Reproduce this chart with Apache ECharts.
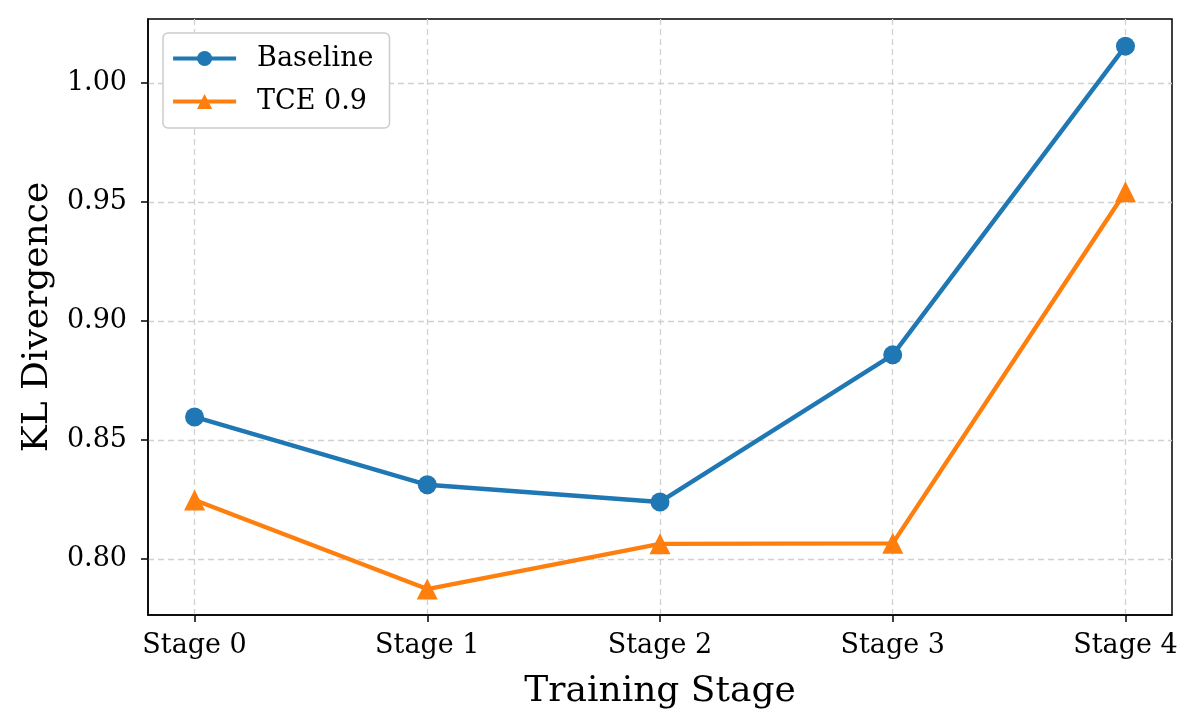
<!DOCTYPE html>
<html>
<head>
<meta charset="utf-8">
<script src="https://cdn.jsdelivr.net/npm/echarts@6/dist/echarts.min.js"></script>
<style>html,body{margin:0;padding:0;background:#fff}#c{width:1200px;height:728px}</style>
</head>
<body>
<div id="c"></div>
<script>
const stages = [0, 1, 2, 3, 4];
const stageLabels = ['Stage 0', 'Stage 1', 'Stage 2', 'Stage 3', 'Stage 4'];
const baseline = [0.8597, 0.8312, 0.8240, 0.8858, 1.0155];
const tce = [0.8248, 0.7874, 0.8064, 0.8066, 0.9543];
const yTicks = [0.80, 0.85, 0.90, 0.95, 1.00];

const font = 'DejaVu Serif';
const chart = echarts.init(document.getElementById('c'), null, {renderer: 'canvas'});
chart.setOption({
  backgroundColor: '#fff',
  animation: false,
  grid: {left: 148, right: 28, top: 19, bottom: 113, show: true, borderColor: '#000', borderWidth: 1.5, backgroundColor: 'transparent'},
  legend: {
    left: 163, top: 33, orient: 'vertical',
    itemWidth: 63, itemHeight: 19, itemGap: 12,
    padding: [10, 16, 11, 8],
    backgroundColor: '#fff', borderColor: '#cccccc', borderWidth: 1.5, borderRadius: 5,
    lineStyle: {width: 4.2},
    textStyle: {fontFamily: font, fontSize: 27, color: '#000', padding: [0, 0, 0, 16], lineHeight: 31},
    data: ['Baseline', 'TCE 0.9']
  },
  xAxis: {
    type: 'value', min: -0.2, max: 4.2,
    name: 'Training Stage', nameLocation: 'middle', nameGap: 59,
    nameTextStyle: {fontFamily: font, fontSize: 36, color: '#000'},
    axisLine: {show: true, onZero: false, lineStyle: {color: '#000', width: 1.5}},
    axisTick: {show: true, length: 7, lineStyle: {color: '#000', width: 1.5}, customValues: stages},
    axisLabel: {fontFamily: font, fontSize: 27, color: '#000', margin: 17, customValues: stages,
      formatter: v => stageLabels[Math.round(v)] || ''},
    splitLine: {show: true, lineStyle: {color: '#d0d0d0', width: 1.3, type: [6, 4]}}
  },
  yAxis: {
    type: 'value', min: 0.7765, max: 1.0269,
    name: 'KL Divergence', nameLocation: 'middle', nameGap: 89,
    nameTextStyle: {fontFamily: font, fontSize: 36, color: '#000'},
    axisLine: {show: true, onZero: false, lineStyle: {color: '#000', width: 1.5}},
    axisTick: {show: true, length: 7, lineStyle: {color: '#000', width: 1.5}, customValues: yTicks},
    axisLabel: {fontFamily: font, fontSize: 27, color: '#000', margin: 21, customValues: yTicks,
      formatter: v => v.toFixed(2)},
    splitLine: {show: true, lineStyle: {color: '#d0d0d0', width: 1.3, type: [6, 4]}}
  },
  series: [
    {name: 'Baseline', type: 'line', data: stages.map((s, i) => [s, baseline[i]]),
      symbol: 'circle', symbolSize: 19, color: '#1f77b4',
      lineStyle: {width: 4.4, color: '#1f77b4'}, itemStyle: {color: '#1f77b4'}},
    {name: 'TCE 0.9', type: 'line', data: stages.map((s, i) => [s, tce[i]]),
      symbol: 'triangle', symbolSize: 21, color: '#ff7f0e',
      lineStyle: {width: 4.4, color: '#ff7f0e'}, itemStyle: {color: '#ff7f0e'}}
  ]
});
</script>
</body>
</html>
